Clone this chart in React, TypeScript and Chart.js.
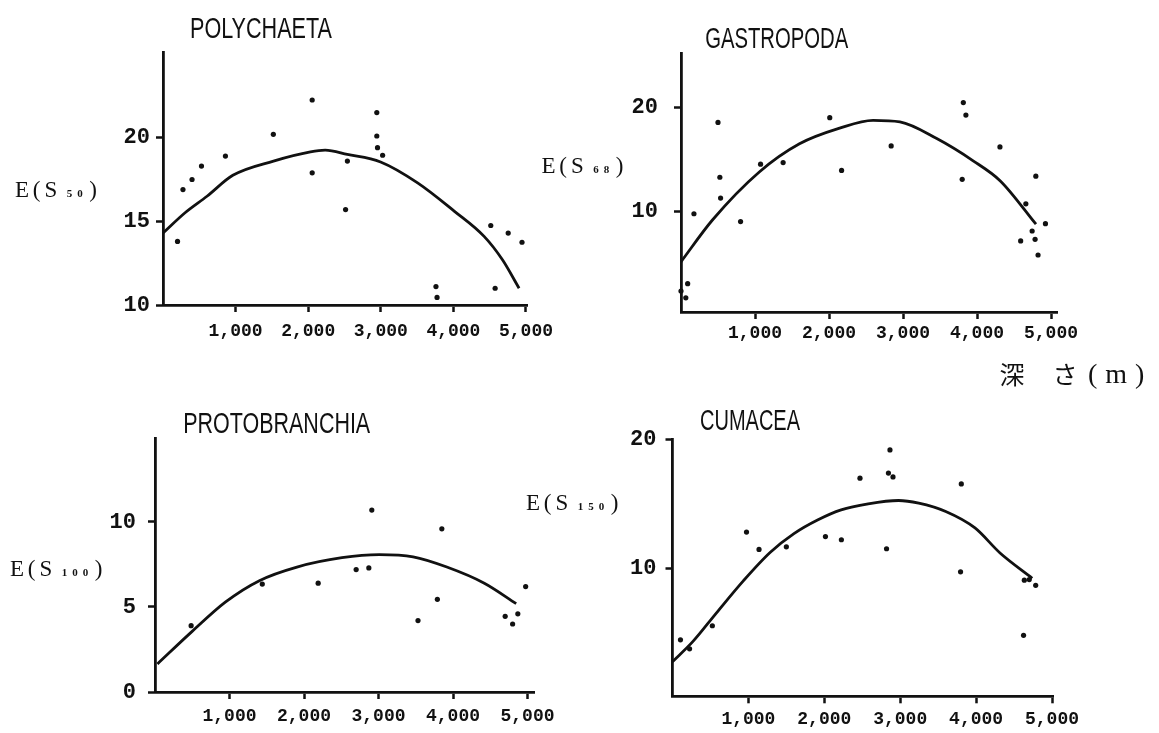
import React, { useEffect, useRef } from "react";
import { Chart, registerables } from "chart.js";

Chart.register(...registerables);

// ---------- shared ----------
const depthTicks = [1000, 2000, 3000, 4000, 5000];

// ---------- POLYCHAETA  E(S50) ----------
const polyDepth = [200, 275, 400, 530, 860, 1520, 2055, 2055, 2515, 2540, 2945, 2945, 2955, 3025, 3760, 3775, 4515, 4575, 4755, 4945, 5085];
const polyES = [13.8, 16.9, 17.5, 18.3, 18.9, 20.2, 22.25, 17.9, 15.7, 18.6, 21.5, 20.1, 19.4, 18.95, 11.1, 10.45, 14.75, 11.0, 14.3, 13.75, 10.25];
const polyCurveDepth = [0, 300, 606, 962, 1522, 2031, 2234, 2539, 2997, 3507, 4015, 4423, 4676, 4905];
const polyCurveES = [14.3, 15.5, 16.5, 17.75, 18.6, 19.15, 19.25, 19.0, 18.55, 17.3, 15.6, 14.1, 12.7, 11.0];
const polyYTicks = [10, 15, 20];

// ---------- GASTROPODA  E(S68) ----------
const gastroDepth = [0, 90, 65, 175, 500, 525, 535, 805, 1075, 1380, 2010, 2170, 2840, 3815, 3850, 3800, 4310, 4590, 4660, 4745, 4785, 4795, 4825, 4925];
const gastroES = [2.4, 3.1, 1.75, 9.8, 18.55, 13.3, 11.3, 9.05, 14.55, 14.7, 19.0, 13.95, 16.3, 20.45, 19.25, 13.1, 16.2, 7.2, 10.75, 8.15, 7.35, 13.4, 5.85, 8.85];
const gastroCurveDepth = [0, 425, 1058, 1601, 2144, 2596, 2958, 3456, 3953, 4315, 4797];
const gastroCurveES = [5.2, 9.2, 13.8, 16.5, 18.0, 18.75, 18.6, 17.0, 14.85, 12.95, 8.8];
const gastroYTicks = [10, 20];

// ---------- PROTOBRANCHIA  E(S100) ----------
const protoDepth = [485, 1440, 2190, 2700, 2870, 2910, 3530, 3790, 3850, 4700, 4800, 4870, 4975];
const protoES = [3.9, 6.35, 6.4, 7.2, 7.3, 10.7, 4.2, 5.45, 9.6, 4.45, 4.0, 4.6, 6.2];
const protoCurveDepth = [33, 495, 948, 1401, 1905, 2509, 3011, 3464, 3917, 4420, 4848];
const protoCurveES = [1.65, 3.55, 5.3, 6.55, 7.35, 7.9, 8.08, 7.95, 7.35, 6.4, 5.2];
const protoYTicks = [0, 5, 10];

// ---------- CUMACEA  E(S150) ----------
const cumaDepth = [105, 225, 525, 975, 1140, 1500, 2015, 2225, 2470, 2820, 2865, 2845, 2905, 3805, 3795, 4625, 4635, 4785, 4700];
const cumaES = [4.4, 3.7, 5.5, 12.8, 11.45, 11.65, 12.45, 12.2, 17.0, 11.5, 19.2, 17.4, 17.1, 16.55, 9.7, 4.75, 9.05, 8.65, 9.1];
const cumaCurveDepth = [0, 267, 577, 933, 1289, 1600, 1911, 2222, 2578, 2978, 3244, 3600, 3985, 4315, 4740];
const cumaCurveES = [2.7, 4.26, 6.49, 9.0, 11.23, 12.68, 13.74, 14.53, 15.0, 15.26, 15.05, 14.4, 13.12, 11.17, 9.2];
const cumaYTicks = [10, 20];

const depthUnitLabel = ["深", "さ", "(m)"];

// ---------- layout / style ----------
const W = 1159;
const H = 733;
const INK = "#111";

type Panel = {
  title: string;
  sub: string;
  xs: number[];
  ys: number[];
  cx: number[];
  cy: number[];
  yTicks: number[];
  area: { l: number; t: number; r: number; b: number };
  xMax: number;
  yMin: number;
  yMax: number;
  yPad: number;
  xPad: number;
  titlePos: { cx: number; base: number; w: number };
  labelPos: { x: number; base: number };
  unit?: boolean;
};

const panels: Panel[] = [
  {
    title: "POLYCHAETA", sub: "50",
    xs: polyDepth, ys: polyES, cx: polyCurveDepth, cy: polyCurveES, yTicks: polyYTicks,
    area: { l: 163, t: 52, r: 527, b: 305 }, xMax: 5014, yMin: 10, yMax: 25.12,
    yPad: 6, xPad: 9,
    titlePos: { cx: 261, base: 38.3, w: 142 }, labelPos: { x: 22, base: 196.7 },
  },
  {
    title: "GASTROPODA", sub: "68",
    xs: gastroDepth, ys: gastroES, cx: gastroCurveDepth, cy: gastroCurveES, yTicks: gastroYTicks,
    area: { l: 681, t: 53, r: 1057, b: 312 }, xMax: 5081, yMin: 0.39, yMax: 25.2,
    yPad: 16, xPad: 3.5,
    titlePos: { cx: 776.7, base: 48.3, w: 143 }, labelPos: { x: 548.5, base: 173.3 },
    unit: true,
  },
  {
    title: "PROTOBRANCHIA", sub: "100",
    xs: protoDepth, ys: protoES, cx: protoCurveDepth, cy: protoCurveES, yTicks: protoYTicks,
    area: { l: 155, t: 438, r: 534, b: 692 }, xMax: 5087, yMin: 0, yMax: 14.94,
    yPad: 12, xPad: 7,
    titlePos: { cx: 276.7, base: 433, w: 187 }, labelPos: { x: 17, base: 576.3 },
  },
  {
    title: "CUMACEA", sub: "150",
    xs: cumaDepth, ys: cumaES, cx: cumaCurveDepth, cy: cumaCurveES, yTicks: cumaYTicks,
    area: { l: 672.5, t: 439.7, r: 1053.3, b: 696.3 }, xMax: 5017, yMin: 0, yMax: 20,
    yPad: 9, xPad: 5,
    titlePos: { cx: 750, base: 429.7, w: 100 }, labelPos: { x: 533, base: 509.7 },
  },
];

function drawES(ctx: CanvasRenderingContext2D, x: number, base: number, sub: string) {
  ctx.textAlign = "center";
  ctx.textBaseline = "alphabetic";
  ctx.font = '23px "Liberation Serif", serif';
  ctx.fillText("E", x, base);
  ctx.fillText("(", x + 14.5, base);
  ctx.fillText("S", x + 29, base);
  ctx.font = 'bold 11px "Liberation Serif", serif';
  let c = x + 47.5;
  for (const ch of sub) {
    ctx.fillText(ch, c, base);
    c += 10.5;
  }
  ctx.font = '23px "Liberation Serif", serif';
  ctx.fillText(")", c + 2.5, base);
}

function buildChart(canvas: HTMLCanvasElement, p: Panel) {
  const decor = {
    id: "decor",
    afterDraw(chart: any) {
      const ctx: CanvasRenderingContext2D = chart.ctx;
      ctx.save();
      ctx.fillStyle = INK;
      // title (condensed)
      ctx.font = '30px "Liberation Sans", sans-serif';
      ctx.textAlign = "center";
      ctx.textBaseline = "alphabetic";
      const tw = ctx.measureText(p.title).width;
      ctx.save();
      ctx.translate(p.titlePos.cx, p.titlePos.base);
      ctx.scale(p.titlePos.w / tw, 1);
      ctx.fillText(p.title, 0, 0);
      ctx.restore();
      // y label
      drawES(ctx, p.labelPos.x, p.labelPos.base, p.sub);
      // depth unit label
      if (p.unit) {
        ctx.textAlign = "center";
        ctx.font = '25px "Noto Sans CJK JP", sans-serif';
        ctx.fillText(depthUnitLabel[0], 1012, 384);
        ctx.fillText(depthUnitLabel[1], 1065, 384);
        ctx.textAlign = "left";
        ctx.font = '28px "Liberation Serif", serif';
        (ctx as any).letterSpacing = "8px";
        ctx.fillText(depthUnitLabel[2], 1088, 383);
        (ctx as any).letterSpacing = "0px";
      }
      ctx.restore();
    },
  };

  const pts = p.xs.map((x, i) => ({ x, y: p.ys[i] }));
  const curve = p.cx.map((x, i) => ({ x, y: p.cy[i] }));

  return new Chart(canvas, {
    type: "scatter",
    data: {
      datasets: [
        {
          data: pts,
          showLine: false,
          pointRadius: 2.6,
          pointBackgroundColor: INK,
          pointBorderWidth: 0,
          clip: false,
        } as any,
        {
          data: curve,
          showLine: true,
          pointRadius: 0,
          borderColor: INK,
          borderWidth: 2.8,
          cubicInterpolationMode: "monotone",
          fill: false,
          clip: false,
        } as any,
      ],
    },
    options: {
      responsive: false,
      animation: false,
      devicePixelRatio: 1,
      events: [],
      layout: { padding: { left: 0, top: p.area.t, right: W - p.area.r, bottom: 0 } },
      plugins: {
        legend: { display: false },
        tooltip: { enabled: false },
        title: { display: false },
      },
      scales: {
        x: {
          type: "linear",
          position: "bottom",
          min: 0,
          max: p.xMax,
          afterBuildTicks: (s: any) => {
            s.ticks = depthTicks.map((v) => ({ value: v }));
          },
          afterFit: (s: any) => {
            s.height = H - p.area.b;
          },
          ticks: {
            autoSkip: false,
            maxRotation: 0,
            minRotation: 0,
            padding: p.xPad,
            color: INK,
            font: { family: '"Liberation Mono", monospace', size: 18, weight: "bold" },
            callback: (v: any) => Number(v).toLocaleString("en-US"),
          },
          grid: { display: true, drawOnChartArea: false, drawTicks: true, tickLength: 7, tickColor: INK, tickWidth: 2.5 },
          border: { display: true, color: INK, width: 2.8 },
        },
        y: {
          type: "linear",
          position: "left",
          min: p.yMin,
          max: p.yMax,
          afterBuildTicks: (s: any) => {
            s.ticks = p.yTicks.map((v) => ({ value: v }));
          },
          afterFit: (s: any) => {
            s.width = p.area.l;
          },
          ticks: {
            autoSkip: false,
            padding: p.yPad,
            color: INK,
            font: { family: '"Liberation Mono", monospace', size: 22, weight: "bold" },
            callback: (v: any) => String(v),
          },
          grid: { display: true, drawOnChartArea: false, drawTicks: true, tickLength: 7, tickColor: INK, tickWidth: 2.5 },
          border: { display: true, color: INK, width: 2.8 },
        },
      },
    } as any,
    plugins: [decor],
  });
}

function PanelCanvas({ p }: { p: Panel }) {
  const ref = useRef<HTMLCanvasElement | null>(null);
  useEffect(() => {
    if (!ref.current) return;
    const chart = buildChart(ref.current, p);
    return () => chart.destroy();
  }, [p]);
  return (
    <canvas
      ref={ref}
      width={W}
      height={H}
      style={{ position: "absolute", left: 0, top: 0, width: W, height: H }}
    />
  );
}

export default function App() {
  return (
    <div
      style={{
        position: "fixed",
        left: 0,
        top: 0,
        width: W,
        height: H,
        background: "#fff",
        overflow: "hidden",
      }}
    >
      {panels.map((p) => (
        <PanelCanvas key={p.title} p={p} />
      ))}
    </div>
  );
}
